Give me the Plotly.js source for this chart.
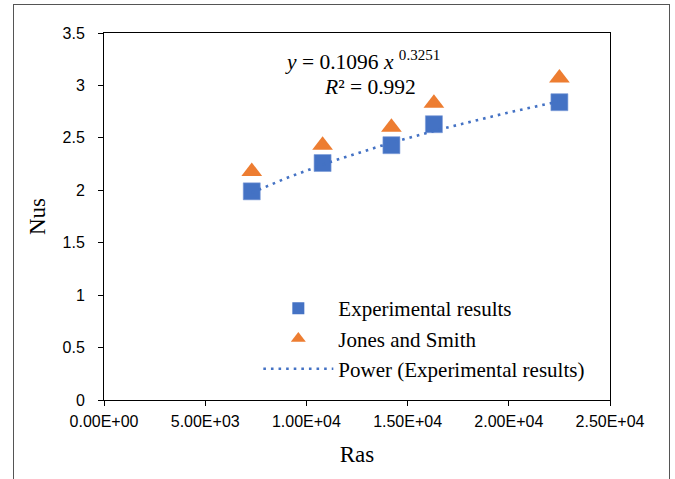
<!DOCTYPE html>
<html>
<head>
<meta charset="utf-8">
<script src="https://cdn.plot.ly/plotly-3.0.1.min.js"></script>
<style>
  html, body { margin: 0; padding: 0; background: #fff; }
  #wrap { position: relative; width: 675px; height: 479px; overflow: hidden; }
  #chart { position: absolute; left: 0; top: 0; width: 675px; height: 479px; }
  #frame { position: absolute; left: 13px; top: 4px; width: 655px; height: 500px;
           border: 1px solid #555; pointer-events: none; }
</style>
</head>
<body>
<div id="wrap">
  <div id="chart"></div>
  <div id="frame"></div>
</div>
<script>
// Data
var ras = [7300, 10800, 14200, 16300, 22500];
var nusExperimental = [1.99, 2.26, 2.43, 2.63, 2.84];
var nusJonesSmith = [2.18, 2.43, 2.60, 2.83, 3.07];

// Power trendline coefficients printed on the chart
var powerCoef = 0.1096;
var powerExp = 0.3251;
var rSquared = 0.992;

// Axis ticks
var xTickVals = [0, 5000, 10000, 15000, 20000, 25000];
var xTickText = ['0.00E+00', '5.00E+03', '1.00E+04', '1.50E+04', '2.00E+04', '2.50E+04'];
var yTickVals = [0, 0.5, 1, 1.5, 2, 2.5, 3, 3.5];
var yTickText = ['0', '0.5', '1', '1.5', '2', '2.5', '3', '3.5'];

var seriesNames = ['Experimental results', 'Jones and Smith', 'Power (Experimental results)'];

// trendline evaluated from the printed fit over the experimental range
var trendX = [];
var xMin = Math.min.apply(null, ras), xMax = Math.max.apply(null, ras);
for (var i = 0; i <= 40; i++) { trendX.push(xMin + (xMax - xMin) * i / 40); }
var trendY = trendX.map(function (x) { return powerCoef * Math.pow(x, powerExp); });

var blue = '#4472C4', orange = '#ED7D31';
var serif = '"Liberation Serif", "Times New Roman", serif';
var sans = '"Liberation Sans", Arial, sans-serif';

var traces = [
  {
    x: ras, y: nusExperimental, type: 'scatter', mode: 'markers',
    name: seriesNames[0], showlegend: false,
    marker: { symbol: 'square', size: 17, color: blue, line: { color: '#7b9bd9', width: 0.6 } }
  },
  {
    x: ras, y: nusJonesSmith, type: 'scatter', mode: 'markers',
    name: seriesNames[1], showlegend: false,
    marker: { symbol: 'triangle-up', size: 18, color: orange, line: { width: 0 } }
  },
  {
    x: trendX, y: trendY, type: 'scatter', mode: 'lines',
    name: seriesNames[2], showlegend: false,
    line: { color: blue, width: 2.6, dash: '2.6px,5px' }
  },
  // legend entries (smaller symbols, as in the reference legend)
  {
    x: [null], y: [null], type: 'scatter', mode: 'markers',
    name: seriesNames[0], legendgroup: 'a',
    marker: { symbol: 'square', size: 12, color: blue }
  },
  {
    x: [null], y: [null], type: 'scatter', mode: 'markers',
    name: seriesNames[1], legendgroup: 'b',
    marker: { symbol: 'triangle-up', size: 13, color: orange }
  },
  {
    x: [null], y: [null], type: 'scatter', mode: 'lines',
    name: seriesNames[2], legendgroup: 'c',
    line: { color: blue, width: 2.6, dash: '2.6px,5px' }
  }
];

var layout = {
  width: 675, height: 479,
  margin: { l: 104, r: 65, t: 33, b: 79, pad: 0 },
  paper_bgcolor: '#fff', plot_bgcolor: '#fff',
  showlegend: true,
  legend: {
    x: 0.305, y: 0.305, xanchor: 'left', yanchor: 'top',
    bgcolor: 'rgba(0,0,0,0)', borderwidth: 0,
    font: { family: serif, size: 21, color: '#000' },
    itemwidth: 70, tracegroupgap: 3, traceorder: 'normal'
  },
  xaxis: {
    range: [0, 25000], tickvals: xTickVals, ticktext: xTickText,
    showgrid: false, zeroline: false,
    showline: true, linecolor: '#000', linewidth: 1, mirror: true,
    ticks: 'outside', ticklen: 5, tickcolor: '#000', tickwidth: 1,
    ticklabelstandoff: 2,
    tickfont: { family: sans, size: 16, color: '#000' },
    title: { text: 'Ras', font: { family: serif, size: 23, color: '#000' }, standoff: 16 }
  },
  yaxis: {
    range: [0, 3.5], tickvals: yTickVals, ticktext: yTickText,
    showgrid: false, zeroline: false,
    showline: true, linecolor: '#000', linewidth: 1, mirror: true,
    ticks: 'outside', ticklen: 5, tickcolor: '#000', tickwidth: 1,
    ticklabelstandoff: 10,
    tickfont: { family: sans, size: 16, color: '#000' },
    title: { text: 'Nus', font: { family: serif, size: 23, color: '#000' }, standoff: 10 }
  },
  annotations: [
    {
      xref: 'paper', yref: 'paper', x: 0.51, y: 0.925, xanchor: 'center', yanchor: 'middle',
      showarrow: false,
      text: '<i>y</i> = ' + powerCoef + ' <i>x</i> <sup>' + powerExp + '</sup>',
      font: { family: serif, size: 21.5, color: '#000' }
    },
    {
      xref: 'paper', yref: 'paper', x: 0.526, y: 0.853, xanchor: 'center', yanchor: 'middle',
      showarrow: false,
      text: '<i>R</i>² = ' + rSquared,
      font: { family: serif, size: 21.5, color: '#000' }
    }
  ]
};

Plotly.newPlot('chart', traces, layout, { displayModeBar: false, staticPlot: true });
</script>
</body>
</html>
